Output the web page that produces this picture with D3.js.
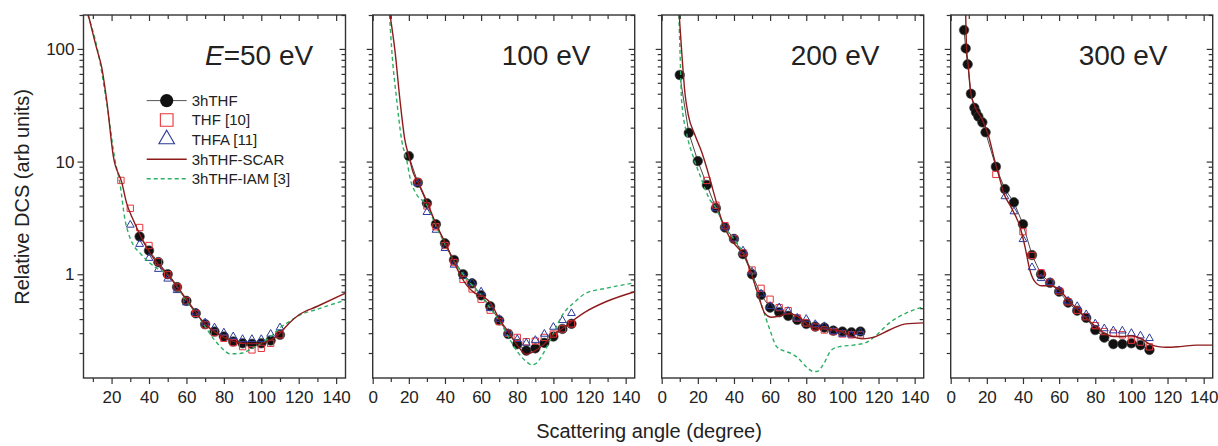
<!DOCTYPE html>
<html>
<head>
<meta charset="utf-8">
<script src="https://cdn.jsdelivr.net/npm/d3@7"></script>
<style>
  body { margin: 0; background: #fff; }
  svg { display: block; }
  text { font-family: Arial, "Liberation Sans", Helvetica, sans-serif; fill: #222; }
</style>
</head>
<body>
<svg id="chart" width="1218" height="446"></svg>
<script>
// ---- data -------------------------------------------------------------
const energyLabels = ["=50 eV", "100 eV", "200 eV", "300 eV"];
const xTickValues = [0, 20, 40, 60, 80, 100, 120, 140];
const xMinorTicks = [10, 30, 50, 70, 90, 110, 130];
const yTickValues = [1, 10, 100];
const legendLabels = ["3hTHF", "THF [10]", "THFA [11]", "3hTHF-SCAR", "3hTHF-IAM [3]"];

// 50 eV  [angle (deg), DCS]
const hthf50 = [[35,2.16],[40,1.62],[45,1.28],[50,1.0],[55,0.77],[60,0.58],[65,0.45],[70,0.36],[75,0.31],[80,0.28],[85,0.253],[90,0.244],[95,0.241],[100,0.244],[105,0.258],[110,0.29]];
const thf50 = [[25,6.8],[30,3.85],[35,2.6],[40,1.8],[45,1.29],[50,0.99],[55,0.77],[60,0.58],[65,0.45],[70,0.355],[75,0.303],[80,0.27],[85,0.247],[90,0.228],[95,0.213],[100,0.22],[105,0.244],[110,0.29]];
const thfa50 = [[30,2.74],[35,1.85],[40,1.39],[45,1.11],[50,0.91],[55,0.72],[60,0.56],[65,0.457],[70,0.372],[75,0.336],[80,0.303],[85,0.28],[90,0.265],[95,0.265],[100,0.265],[105,0.295],[110,0.336]];
const scar50 = [[7.6,200],[12.1,100],[14.7,69],[17.4,35],[21,11],[25.5,6.5],[28,4.3],[31.6,3.03],[36.1,2.09],[40.6,1.54],[45.9,1.17],[50,1.0],[55,0.78],[60,0.6],[65,0.46],[70,0.36],[75,0.31],[80,0.275],[85,0.255],[90,0.245],[95,0.243],[100,0.245],[105,0.26],[110,0.3],[115,0.37],[120,0.435],[130,0.52],[145,0.68]];
const iam50 = [[7.3,200],[12.4,100],[17.2,35],[22,10],[24.4,6.5],[27.2,3.03],[29,2.31],[31.6,1.82],[35.2,1.54],[39.7,1.29],[44.2,1.13],[50,0.99],[55,0.78],[60,0.58],[65,0.46],[70,0.343],[75,0.261],[80,0.213],[83,0.197],[87,0.197],[90,0.2],[95,0.22],[100,0.244],[105,0.28],[110,0.335],[115,0.38],[120,0.43],[130,0.49],[145,0.59]];

// 100 eV
const hthf100 = [[20,11.2],[25,6.5],[30,4.27],[35,2.78],[40,1.88],[45,1.34],[50,1.0],[55,0.83],[60,0.65],[65,0.52],[70,0.39],[75,0.295],[80,0.24],[85,0.21],[90,0.22],[95,0.246],[100,0.28],[105,0.327],[110,0.363]];
const thf100 = [[25,6.6],[30,4.04],[35,2.64],[40,1.8],[45,1.27],[50,0.9],[55,0.74],[60,0.6],[65,0.48],[70,0.38],[75,0.3],[80,0.275],[85,0.252],[90,0.255],[95,0.275],[100,0.295],[105,0.327],[110,0.363]];
const thfa100 = [[25,6.4],[30,3.55],[35,2.47],[40,1.7],[45,1.21],[50,0.96],[55,0.84],[60,0.7],[65,0.5],[70,0.4],[75,0.3],[80,0.265],[85,0.245],[90,0.26],[95,0.295],[100,0.34],[105,0.39],[110,0.45]];
const scar100 = [[9.6,200],[12.3,97],[15.1,35],[17.8,15.6],[20,11.2],[22.5,7.9],[25,6.6],[30,4.4],[35,2.8],[40,1.92],[45,1.28],[49,0.95],[52,0.8],[56.5,0.68],[61,0.635],[65.8,0.54],[70,0.4],[75,0.31],[80,0.235],[85,0.195],[90,0.21],[95,0.24],[100,0.29],[105,0.33],[110,0.38],[118,0.466],[129,0.57],[145,0.7]];
const iam100 = [[9.3,200],[10.5,100],[13.3,35],[16,15.6],[18.8,10.3],[21,6.8],[24,5.2],[30,4.1],[35,2.7],[40,1.85],[45,1.3],[50,1.0],[55,0.8],[60,0.65],[65,0.5],[70,0.39],[75,0.28],[80,0.206],[85,0.168],[88,0.157],[90,0.16],[95,0.206],[100,0.3],[105,0.435],[112,0.57],[118,0.68],[129,0.75],[145,0.84]];

// 200 eV
const hthf200 = [[10,58.7],[15,18],[20,10.1],[25,6.2],[30,3.86],[35,2.6],[40,2.06],[45,1.51],[50,1.0],[55,0.655],[60,0.506],[65,0.46],[70,0.427],[75,0.394],[80,0.362],[85,0.343],[90,0.336],[95,0.316],[100,0.31],[105,0.305],[110,0.31]];
const thf200 = [[25,6.8],[30,4.1],[35,2.7],[40,2.07],[45,1.55],[50,1.09],[55,0.75],[60,0.6],[65,0.506],[70,0.475],[75,0.41],[80,0.37],[85,0.34],[90,0.32],[95,0.31],[100,0.295],[105,0.29],[110,0.29]];
const thfa200 = [[30,3.86],[35,2.58],[40,2.07],[45,1.62],[50,1.05],[55,0.67],[60,0.52],[65,0.506],[70,0.47],[75,0.41],[80,0.4],[85,0.36],[90,0.345],[95,0.31],[100,0.295],[105,0.29],[110,0.305]];
const scar200 = [[9.7,200],[11,98],[12.9,40],[14.7,26],[18.4,17.2],[22.1,12.2],[26.7,7.0],[30,4.5],[33.2,3.03],[37.8,2.09],[42.4,1.7],[46.1,1.44],[49.8,0.99],[53.4,0.655],[57.1,0.45],[60.8,0.415],[65.4,0.427],[70.9,0.45],[76.4,0.41],[81.9,0.348],[90,0.325],[96.7,0.32],[104,0.284],[111.4,0.267],[117,0.275],[126,0.32],[135,0.363],[145,0.37]];
const iam200 = [[9.5,200],[10.1,100],[11,35],[13.8,17.8],[17.5,11],[22.1,6.9],[26.7,4.57],[30,3.9],[35,2.6],[40,2.05],[45,1.55],[50,1.0],[52.5,0.72],[56.2,0.48],[59.9,0.32],[63.6,0.228],[67.3,0.21],[71,0.2],[75.5,0.18],[80,0.151],[84,0.137],[86,0.137],[89.3,0.157],[94,0.213],[98.5,0.228],[106,0.235],[113,0.247],[119,0.29],[126,0.37],[135,0.45],[145,0.516]];

// 300 eV
const hthf300 = [[7.4,147],[8.3,101],[9.4,73],[11.2,40],[13.1,30],[14,27.4],[15.3,25.1],[17.5,22.3],[19.3,18.2],[25,9.0],[30,5.7],[35,4.35],[40,2.78],[45,1.48],[50,1.0],[55,0.84],[60,0.7],[65,0.56],[70,0.475],[75,0.41],[80,0.32],[85,0.274],[90,0.24],[95,0.24],[100,0.244],[105,0.235],[110,0.213]];
const thf300 = [[25,7.7],[40,2.39],[45,1.47],[50,1.03],[55,0.85],[60,0.71],[65,0.57],[70,0.48],[75,0.42],[80,0.35],[85,0.31],[90,0.3],[95,0.29],[100,0.26],[105,0.25],[110,0.227]];
const thfa300 = [[30,4.9],[35,3.6],[40,2.04],[45,1.15],[50,0.92],[55,0.85],[60,0.72],[65,0.58],[70,0.52],[75,0.44],[80,0.364],[85,0.33],[90,0.316],[95,0.315],[100,0.3],[105,0.285],[110,0.27]];
const scar300 = [[8.3,200],[8.8,100],[9.7,72],[11,41.6],[13.4,30.7],[17.1,24.3],[20.8,17.2],[24.5,10],[27.3,6.9],[29.1,5.4],[33.7,3.86],[38.3,2.65],[41.1,1.76],[43.8,1.09],[46.6,0.86],[50.3,0.79],[54.9,0.79],[60,0.73],[65,0.59],[70,0.49],[75,0.41],[80,0.345],[85,0.3],[90,0.28],[95,0.28],[100,0.285],[105,0.27],[110,0.24],[114.8,0.228],[119.4,0.225],[126.8,0.228],[136,0.235],[145,0.235]];

// ---- layout -----------------------------------------------------------
const svg = d3.select("#chart");
const panelTop = 15, panelH = 363, panelW = 262;
const panelLefts = [83.5, 372.7, 661.7, 950.7];
const colors = { hthf: "#111", thf: "#e8333a", thfa: "#2c3a9c", scar: "#8e1b1b", iam: "#2bb064", frame: "#333" };

const panels = [
  { xDomain: [5, 145], hthf: hthf50, thf: thf50, thfa: thfa50, scar: scar50, iam: iam50, italicE: true, labelDx: 121.5 },
  { xDomain: [0, 145], hthf: hthf100, thf: thf100, thfa: thfa100, scar: scar100, iam: iam100, labelDx: 129 },
  { xDomain: [0, 145], hthf: hthf200, thf: thf200, thfa: thfa200, scar: scar200, iam: iam200, labelDx: 129 },
  { xDomain: [0, 145], hthf: hthf300, thf: thf300, thfa: thfa300, scar: scar300, iam: null, labelDx: 128 }
];

const y = d3.scaleLog().domain([0.12, 200]).range([panelH, 0]);
const yMinor = [];
[0.1, 1, 10, 100].forEach(d => { for (let k = 2; k <= 9; k++) { const v = d * k; if (v >= 0.12 && v <= 200) yMinor.push(v); } });

function styleAxis(g) {
  g.select(".domain").remove();
  g.selectAll(".tick line").attr("stroke", colors.frame).attr("stroke-width", 1.2);
  g.selectAll(".tick text").attr("font-size", 17).attr("fill", "#222")
    .attr("font-family", "Arial, 'Liberation Sans', sans-serif");
}

panels.forEach((p, i) => {
  const g = svg.append("g").attr("transform", `translate(${panelLefts[i]},${panelTop})`);
  const x = d3.scaleLinear().domain(p.xDomain).range([0, panelW]);
  const inX = v => v >= p.xDomain[0] && v <= p.xDomain[1];
  const majX = xTickValues.filter(inX), minX = xMinorTicks.filter(inX);

  // axes: bottom/left ticks outward, top/right ticks inward
  g.append("g").attr("transform", `translate(0,${panelH})`)
    .call(d3.axisBottom(x).tickValues(majX).tickSize(6).tickPadding(7).tickFormat(d3.format("d"))).call(styleAxis);
  g.append("g").attr("transform", `translate(0,${panelH})`)
    .call(d3.axisBottom(x).tickValues(minX).tickSize(4).tickFormat("")).call(styleAxis);
  g.append("g").call(d3.axisTop(x).tickValues(majX).tickSize(-6).tickFormat("")).call(styleAxis);
  g.append("g").call(d3.axisTop(x).tickValues(minX).tickSize(-4).tickFormat("")).call(styleAxis);

  g.append("g").call(d3.axisLeft(y).tickValues(yTickValues).tickSize(6).tickPadding(3)
    .tickFormat(i === 0 ? d3.format("d") : "")).call(styleAxis);
  g.append("g").call(d3.axisLeft(y).tickValues(yMinor).tickSize(4).tickFormat("")).call(styleAxis);
  g.append("g").attr("transform", `translate(${panelW},0)`)
    .call(d3.axisRight(y).tickValues(yTickValues).tickSize(-6).tickFormat("")).call(styleAxis);
  g.append("g").attr("transform", `translate(${panelW},0)`)
    .call(d3.axisRight(y).tickValues(yMinor).tickSize(-4).tickFormat("")).call(styleAxis);

  // plot area clip
  const clipId = `clip${i}`;
  g.append("clipPath").attr("id", clipId).append("rect").attr("width", panelW).attr("height", panelH);
  const plot = g.append("g").attr("clip-path", `url(#${clipId})`);

  const lin = d3.line().x(d => x(d[0])).y(d => y(d[1]));
  const smooth = d3.line().x(d => x(d[0])).y(d => y(d[1])).curve(d3.curveMonotoneX);

  // 3hTHF: connecting line + filled circles
  plot.append("path").datum(p.hthf).attr("d", lin)
    .attr("fill", "none").attr("stroke", "#333").attr("stroke-width", 0.9);
  plot.selectAll("circle.hthf").data(p.hthf).join("circle").attr("class", "hthf")
    .attr("cx", d => x(d[0])).attr("cy", d => y(d[1])).attr("r", 4.8)
    .attr("fill", colors.hthf).attr("stroke", "#444").attr("stroke-width", 0.6);

  // THF [10]: open squares
  plot.selectAll("path.thf").data(p.thf).join("path").attr("class", "thf")
    .attr("d", d3.symbol(d3.symbolSquare, 40)())
    .attr("transform", d => `translate(${x(d[0])},${y(d[1])})`)
    .attr("fill", "none").attr("stroke", colors.thf).attr("stroke-width", 1);

  // THFA [11]: open triangles
  plot.selectAll("path.thfa").data(p.thfa).join("path").attr("class", "thfa")
    .attr("d", d3.symbol(d3.symbolTriangle, 26)())
    .attr("transform", d => `translate(${x(d[0])},${y(d[1])})`)
    .attr("fill", "none").attr("stroke", colors.thfa).attr("stroke-width", 1);

  // theory curves
  if (p.iam) {
    plot.append("path").datum(p.iam).attr("d", smooth)
      .attr("fill", "none").attr("stroke", colors.iam).attr("stroke-width", 1.4).attr("stroke-dasharray", "4,3");
  }
  plot.append("path").datum(p.scar).attr("d", smooth)
    .attr("fill", "none").attr("stroke", colors.scar).attr("stroke-width", 1.4);

  // frame
  g.append("rect").attr("width", panelW).attr("height", panelH)
    .attr("fill", "none").attr("stroke", colors.frame).attr("stroke-width", 1.4);

  // energy label
  const lab = g.append("text").attr("x", p.labelDx).attr("y", 50).attr("font-size", 28);
  if (p.italicE) lab.append("tspan").attr("font-style", "italic").text("E");
  lab.append("tspan").text(energyLabels[i]);
});

// ---- legend (first panel) ---------------------------------------------
const lg = svg.append("g").attr("transform", "translate(166.7,0)");
const rowY = [100.6, 120, 139.2, 159.2, 178.8];
lg.append("line").attr("x1", -20).attr("x2", 20).attr("y1", rowY[0]).attr("y2", rowY[0])
  .attr("stroke", "#555").attr("stroke-width", 1);
lg.append("circle").attr("cy", rowY[0]).attr("r", 6.6).attr("fill", colors.hthf);
lg.append("path").attr("d", d3.symbol(d3.symbolSquare, 160)()).attr("transform", `translate(0,${rowY[1]})`)
  .attr("fill", "none").attr("stroke", colors.thf).attr("stroke-width", 1.1);
lg.append("path").attr("d", d3.symbol(d3.symbolTriangle, 105)()).attr("transform", `translate(0,${rowY[2]})`)
  .attr("fill", "none").attr("stroke", colors.thfa).attr("stroke-width", 1.1);
lg.append("line").attr("x1", -20).attr("x2", 20).attr("y1", rowY[3]).attr("y2", rowY[3])
  .attr("stroke", colors.scar).attr("stroke-width", 1.5);
lg.append("line").attr("x1", -20).attr("x2", 20).attr("y1", rowY[4]).attr("y2", rowY[4])
  .attr("stroke", colors.iam).attr("stroke-width", 1.5).attr("stroke-dasharray", "4,3");
lg.selectAll("text").data(legendLabels).join("text")
  .attr("x", 25).attr("y", (d, k) => rowY[k]).attr("dy", "0.36em").attr("font-size", 15).text(d => d);

// ---- axis titles ------------------------------------------------------
svg.append("text").attr("transform", "translate(28.5,197) rotate(-90)")
  .attr("text-anchor", "middle").attr("font-size", 20).text("Relative DCS (arb units)");
svg.append("text").attr("x", 649).attr("y", 438)
  .attr("text-anchor", "middle").attr("font-size", 20).text("Scattering angle (degree)");
</script>
</body>
</html>
